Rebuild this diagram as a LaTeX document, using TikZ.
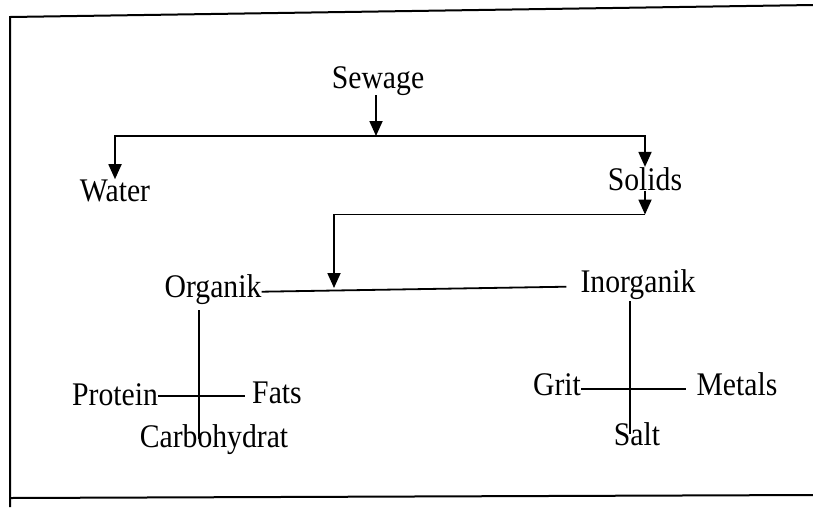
\documentclass[tikz,border=0pt]{standalone}
\usepackage{fontspec}
\setmainfont{Liberation Serif}[FakeStretch=0.9]
\usetikzlibrary{arrows.meta}

\begin{document}
\begin{tikzpicture}[
  x=1pt, y=-1pt,
  lbl/.style={inner sep=0pt, anchor=base, font=\fontsize{33}{40}\selectfont},
  arr/.style={-{Triangle[length=15pt,width=13pt]}, line width=1.8pt},
  line/.style={line width=1.8pt},
  frame/.style={line width=2pt}
]
\useasboundingbox (0,0) rectangle (813,507);
% page frame
\draw[frame] (813,5) -- (10,17) -- (10,507);
\draw[frame] (10,498) -- (813,495);

\node[lbl] (sewage) at (378,88) {Sewage};
\node[lbl] (water) at (115,201) {Water};
\node[lbl] (solids) at (645,190) {Solids};
\node[lbl] (organik) at (213,297) {Organik};
\node[lbl] (inorganik) at (638,292) {Inorganik};
\node[lbl] (protein) at (115,405) {Protein};
\node[lbl] (fats) at (277,403) {Fats};
\node[lbl] (carbo) at (214,447) {Carbohydrat};
\node[lbl] (grit) at (557,395) {Grit};
\node[lbl] (metals) at (737,395) {Metals};
\node[lbl] (salt) at (637,445) {Salt};

\coordinate (sewjoin) at (376,136);
\coordinate (orgjoin) at (334,288);

\draw[arr] (sewage.south -| sewjoin) -- (sewjoin);
\draw[arr] (sewjoin) -| (water.north);
\draw[arr] (sewjoin) -| (solids.north);
\draw[arr] (solids.south) -- ++(0,24) coordinate (solbend);
\draw[arr] (solbend) -| (orgjoin);

\draw[line] ([yshift=3pt]organik.mid east) -- ([xshift=-14pt,yshift=3pt]inorganik.mid west);
\draw[line] ([xshift=-14pt,yshift=-6pt]organik.south) -- ([xshift=-14pt]organik.south |- carbo.center);
\draw[line] ([yshift=7pt]protein.mid east) -- ([xshift=-7pt,yshift=5pt]fats.mid west);
\draw[line] ([xshift=-8pt,yshift=-2pt]inorganik.south) -- ([xshift=-8pt]inorganik.south |- salt.center);
\draw[line] ([yshift=4pt]grit.mid east) -- ([xshift=-10pt,yshift=4pt]metals.mid west);
\end{tikzpicture}
\end{document}
